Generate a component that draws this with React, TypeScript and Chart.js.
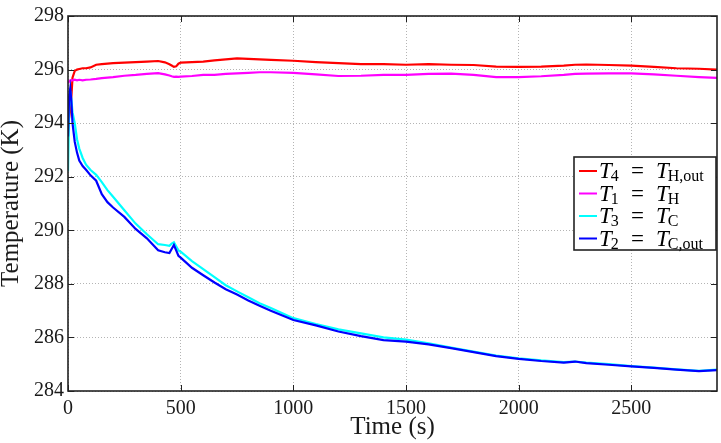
import { useEffect, useRef } from 'react';
import { Chart, registerables } from 'chart.js';

Chart.register(...registerables);

// ---- data ----
const times = [
  0, 5, 10, 15, 20, 30, 40, 50, 65, 80, 100, 125, 150, 175, 200, 250, 300, 350, 400, 430,
  450, 460, 470, 480, 490, 500, 550, 600, 650, 700, 750, 800, 850, 900, 1000, 1100, 1200,
  1300, 1400, 1500, 1600, 1700, 1800, 1900, 2000, 2100, 2200, 2250, 2300, 2400, 2500, 2600,
  2700, 2800, 2880,
];

// T4 = T_H,out (red)
const t4Values = [
  294.0, 294.2, 294.5, 295.0, 295.7, 295.95, 296.0, 296.02, 296.05, 296.05, 296.08, 296.18,
  296.2, 296.22, 296.24, 296.26, 296.28, 296.3, 296.32, 296.27, 296.2, 296.15, 296.1, 296.12,
  296.22, 296.26, 296.28, 296.3, 296.34, 296.38, 296.42, 296.4, 296.38, 296.36, 296.33,
  296.28, 296.24, 296.2, 296.2, 296.18, 296.2, 296.18, 296.17, 296.11, 296.1, 296.11, 296.15,
  296.18, 296.19, 296.17, 296.15, 296.1, 296.05, 296.03, 296.0,
];

// T1 = T_H (magenta)
const t1Values = [
  295.5, 295.55, 295.6, 295.6, 295.6, 295.62, 295.6, 295.62, 295.6, 295.62, 295.63, 295.65,
  295.68, 295.7, 295.72, 295.77, 295.8, 295.84, 295.87, 295.82, 295.78, 295.75, 295.73,
  295.74, 295.73, 295.74, 295.76, 295.8, 295.8, 295.84, 295.86, 295.88, 295.9, 295.9, 295.88,
  295.82, 295.76, 295.77, 295.8, 295.8, 295.84, 295.85, 295.8, 295.72, 295.72, 295.75, 295.8,
  295.84, 295.85, 295.86, 295.86, 295.82, 295.77, 295.72, 295.69,
];

// T3 = T_C (cyan)
const t3Values = [
  292.2, 294.5, 295.2, 294.9, 294.4, 294.0, 293.4, 293.05, 292.7, 292.45, 292.25, 292.07,
  291.8, 291.5, 291.25, 290.75, 290.25, 289.85, 289.48, 289.45, 289.42, 289.5, 289.55, 289.4,
  289.25, 289.2, 288.85, 288.55, 288.25, 287.95, 287.72, 287.5, 287.28, 287.1, 286.72, 286.5,
  286.3, 286.15, 286.0, 285.92, 285.78, 285.62, 285.47, 285.32, 285.22, 285.14, 285.08, 285.1,
  285.06, 285.0, 284.93, 284.87, 284.81, 284.75, 284.8,
];

// T2 = T_C,out (blue)
const t2Values = [
  293.5, 295.0, 295.3, 294.8, 294.0, 293.3, 292.9, 292.6, 292.4, 292.26, 292.05, 291.85,
  291.35, 291.05, 290.85, 290.5, 290.05, 289.7, 289.25, 289.18, 289.15, 289.3, 289.45, 289.25,
  289.05, 288.98, 288.6, 288.32, 288.05, 287.8, 287.6, 287.38, 287.18, 287.0, 286.65, 286.45,
  286.22, 286.05, 285.9, 285.84, 285.74, 285.6, 285.45, 285.3, 285.2, 285.12, 285.06, 285.1,
  285.04, 284.98, 284.92, 284.86, 284.8, 284.74, 284.78,
];

const xTickValues = [0, 500, 1000, 1500, 2000, 2500];
const yTickValues = [284, 286, 288, 290, 292, 294, 296, 298];
const xRange = [0, 2880];
const yRange = [284, 298];

const seriesNames = ['T4 = TH,out', 'T1 = TH', 'T3 = TC', 'T2 = TC,out'];
const legendLeftSubs = ['4', '1', '3', '2'];
const legendRightSubs = ['H,out', 'H', 'C', 'C,out'];
const seriesColors = ['#ff0000', '#ff00ff', '#00ffff', '#0000ff'];
const seriesValues = [t4Values, t1Values, t3Values, t2Values];

const SERIF = "'Liberation Serif', 'Times New Roman', serif";
const TEXT = '#1a1a1a';

const frameAndTicks = {
  id: 'frameAndTicks',
  afterDatasetsDraw(chart: any) {
    const { ctx, chartArea: a, scales } = chart;
    const len = 6;
    ctx.save();
    ctx.strokeStyle = '#222';
    ctx.lineWidth = 1;
    ctx.beginPath();
    for (const v of xTickValues) {
      const px = Math.round(scales.x.getPixelForValue(v)) + 0.5;
      ctx.moveTo(px, a.bottom);
      ctx.lineTo(px, a.bottom - len);
      ctx.moveTo(px, a.top);
      ctx.lineTo(px, a.top + len);
    }
    for (const v of yTickValues) {
      const py = Math.round(scales.y.getPixelForValue(v)) + 0.5;
      ctx.moveTo(a.left, py);
      ctx.lineTo(a.left + len, py);
      ctx.moveTo(a.right, py);
      ctx.lineTo(a.right - len, py);
    }
    ctx.stroke();
    ctx.lineWidth = 1.6;
    ctx.strokeRect(a.left, a.top, a.right - a.left, a.bottom - a.top);
    ctx.restore();
  },
};

const mathLegend = {
  id: 'mathLegend',
  afterDraw(chart: any) {
    const { ctx, chartArea: a } = chart;
    const boxW = 142;
    const boxH = 93;
    const right = a.right - 1;
    const left = right - boxW;
    const top = (a.top + a.bottom) / 2 - boxH / 2;
    ctx.save();
    ctx.fillStyle = '#ffffff';
    ctx.fillRect(left, top, boxW, boxH);
    ctx.strokeStyle = '#222';
    ctx.lineWidth = 1.6;
    ctx.strokeRect(left, top, boxW, boxH);
    const rowH = 22.5;
    const mainFont = `italic 23px ${SERIF}`;
    const subFont = `16px ${SERIF}`;
    const eqFont = `23px ${SERIF}`;
    chart.data.datasets.forEach((ds: any, i: number) => {
      const cy = top + 14 + i * rowH;
      ctx.strokeStyle = ds.borderColor;
      ctx.lineWidth = 2;
      ctx.beginPath();
      ctx.moveTo(left + 5, cy);
      ctx.lineTo(left + 23, cy);
      ctx.stroke();
      const base = cy + 7;
      ctx.fillStyle = '#000';
      ctx.textBaseline = 'alphabetic';
      ctx.textAlign = 'left';
      let x = left + 25;
      ctx.font = mainFont;
      ctx.fillText('T', x, base);
      x += ctx.measureText('T').width;
      ctx.font = subFont;
      ctx.fillText(legendLeftSubs[i], x - 1, base + 3);
      ctx.font = eqFont;
      ctx.fillText('=', left + 57, base);
      x = left + 82;
      ctx.font = mainFont;
      ctx.fillText('T', x, base);
      x += ctx.measureText('T').width;
      ctx.font = subFont;
      ctx.fillText(legendRightSubs[i], x - 1, base + 3);
    });
    ctx.restore();
  },
};

export default function App() {
  const ref = useRef<HTMLCanvasElement | null>(null);
  useEffect(() => {
    if (!ref.current) return;
    const order = [4, 3, 2, 1];
    const chart = new Chart(ref.current, {
      type: 'line',
      data: {
        datasets: seriesValues.map((vals, i) => ({
          label: seriesNames[i],
          data: times.map((t, j) => ({ x: t, y: vals[j] })),
          borderColor: seriesColors[i],
          backgroundColor: seriesColors[i],
          borderWidth: 2.2,
          pointRadius: 0,
          tension: 0,
          fill: false,
          order: order[i],
        })),
      },
      options: {
        animation: false,
        responsive: false,
        events: [],
        layout: { padding: { top: 13, right: 4, left: 0, bottom: 0 } },
        plugins: {
          legend: { display: false },
          tooltip: { enabled: false },
        },
        scales: {
          x: {
            type: 'linear',
            min: xRange[0],
            max: xRange[1],
            afterBuildTicks: (s: any) => {
              s.ticks = xTickValues.map((v) => ({ value: v }));
            },
            afterFit: (s: any) => {
              s.height = 52;
            },
            grid: {
              color: '#b4b4b4',
              lineWidth: 1,
              drawTicks: false,
            },
            border: { display: false, dash: [1, 2] },
            ticks: {
              autoSkip: false,
              maxRotation: 0,
              padding: 6,
              color: TEXT,
              font: { family: SERIF, size: 20 },
              callback: (v: any) => String(v),
            },
            title: {
              display: true,
              text: 'Time (s)',
              color: TEXT,
              font: { family: SERIF, size: 25, lineHeight: 1 },
              padding: { top: 0, bottom: 3 },
            },
          },
          y: {
            type: 'linear',
            min: yRange[0],
            max: yRange[1],
            afterBuildTicks: (s: any) => {
              s.ticks = yTickValues.map((v) => ({ value: v }));
            },
            afterFit: (s: any) => {
              s.width = 68;
            },
            grid: {
              color: '#b4b4b4',
              lineWidth: 1,
              drawTicks: false,
            },
            border: { display: false, dash: [1, 2] },
            ticks: {
              autoSkip: false,
              padding: 4,
              color: TEXT,
              font: { family: SERIF, size: 20 },
              callback: (v: any) => String(v),
            },
            title: {
              display: true,
              text: 'Temperature (K)',
              color: TEXT,
              font: { family: SERIF, size: 25, lineHeight: 1 },
              padding: { top: -1, bottom: 0 },
            },
          },
        },
      },
      plugins: [frameAndTicks, mathLegend],
    });
    return () => chart.destroy();
  }, []);
  return (
    <div style={{ position: 'fixed', left: 0, top: 0, width: 721, height: 443, background: '#fff' }}>
      <canvas ref={ref} width={721} height={443} style={{ display: 'block' }} />
    </div>
  );
}
